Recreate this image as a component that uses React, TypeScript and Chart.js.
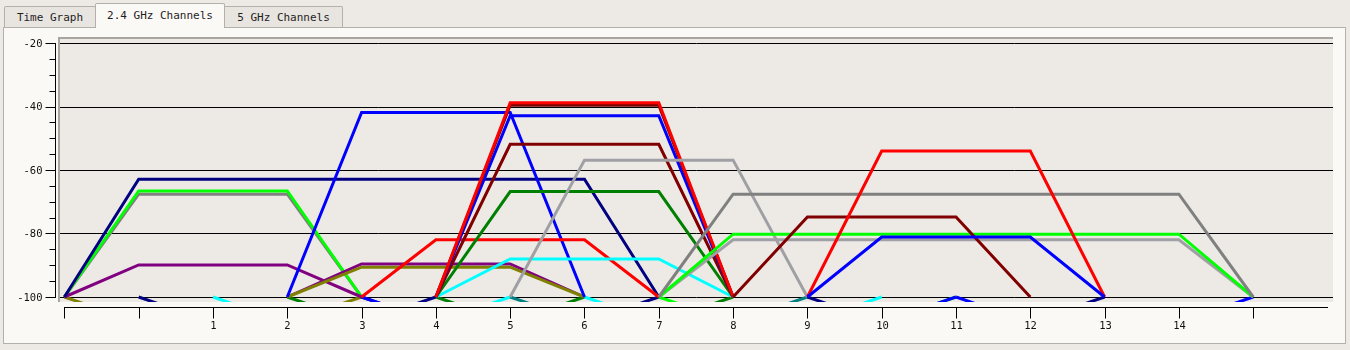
import React, { useEffect, useRef } from "react";
import { Chart, registerables } from "chart.js";

Chart.register(...registerables);

// ---- axis data ----
const channelTicks = [-1, 0, 1, 2, 3, 4, 5, 6, 7, 8, 9, 10, 11, 12, 13, 14, 15];
const channelLabels = ["", "", "1", "2", "3", "4", "5", "6", "7", "8", "9", "10", "11", "12", "13", "14", ""];
const signalTicks = [-20, -40, -60, -80, -100];
const signalLabels = ["-20", "-40", "-60", "-80", "-100"];
const floorSignal = -100;

// ---- networks (listed back to front): first / last channel of the trace and signal (dBm) ----
const netStart = [
  -1, 0, 1, 2, 3, 4, 5, 6, 7, 9, 3, 11,
  -1, -1, -1, -1, 2, 2, 2, 3, 4, 4, 4, 4, 4, 4, 5, 7, 7, 7, 8, 9, 9,
];
const netEnd = [
  3, 4, 5, 6, 7, 8, 9, 10, 11, 13, 11, 15,
  3, 3, 3, 7, 6, 6, 6, 7, 8, 8, 8, 8, 8, 8, 9, 15, 15, 15, 12, 13, 13,
];
const netSignal = [
  -108, -108, -108, -108, -108, -108, -108, -108, -108, -108, -108, -108,
  -67.6, -66.6, -89.9, -62.9, -89.6, -90.6, -41.9, -82, -88, -66.8, -51.9, -42.9, -39.6, -38.8,
  -56.9, -82, -80.2, -67.6, -74.8, -54, -81.1,
];
const netColor = [
  "#808000", "#000080", "#00FFFF", "#008000", "#000080", "#008000", "#008080", "#00FFFF", "#00FF00", "#000080", "#0000FF", "#0000FF",
  "#808080", "#00FF00", "#800080", "#000080", "#800080", "#808000", "#0000FF", "#FF0000", "#00FFFF", "#008000", "#800000", "#0000FF", "#800000", "#FF0000",
  "#A0A0A4", "#A0A0A4", "#00FF00", "#808080", "#800000", "#FF0000", "#0000FF",
];

const MONO = "'DejaVu Sans Mono', 'Liberation Mono', monospace";

export default function App() {
  const ref = useRef<HTMLCanvasElement>(null);

  useEffect(() => {
    if (!ref.current) return;
    const datasets = netSignal.map((s, i) => ({
      data: [
        { x: netStart[i], y: floorSignal },
        { x: netStart[i] + 1, y: s },
        { x: netEnd[i] - 1, y: s },
        { x: netEnd[i], y: floorSignal },
      ],
      borderColor: netColor[i],
      backgroundColor: netColor[i],
      borderWidth: 3,
      pointRadius: 0,
      tension: 0,
      fill: false,
      clip: 0,
      borderJoinStyle: "miter" as const,
    }));
    // Chart.js paints the first dataset last (on top), so reverse to keep back-to-front order
    datasets.reverse();

    const plotDecor = {
      id: "plotDecor",
      beforeDraw(chart: any) {
        const { ctx, chartArea: a } = chart;
        const y = chart.scales.y;
        ctx.save();
        ctx.fillStyle = "#EDEAE6";
        ctx.fillRect(a.left, a.top, a.right - a.left, a.bottom - a.top);
        ctx.fillStyle = "#A8A5A1";
        ctx.fillRect(a.left - 2, a.top - 2, a.right - a.left + 2, 2);
        ctx.fillRect(a.left - 2, a.top - 2, 2, a.bottom - a.top + 2);
        ctx.strokeStyle = "#000";
        ctx.lineWidth = 1;
        signalTicks.forEach((v) => {
          const py = Math.round(y.getPixelForValue(v)) + 0.5;
          ctx.beginPath();
          ctx.moveTo(a.left, py);
          ctx.lineTo(a.right, py);
          ctx.stroke();
        });
        ctx.restore();
      },
      afterDraw(chart: any) {
        const { ctx, chartArea: a } = chart;
        const x = chart.scales.x;
        const y = chart.scales.y;
        ctx.save();
        ctx.strokeStyle = "#000";
        ctx.fillStyle = "#111";
        ctx.lineWidth = 1;
        // y axis
        const ax = a.left - 5 + 0.5;
        const yTop = y.getPixelForValue(signalTicks[0]);
        const yBot = y.getPixelForValue(signalTicks[signalTicks.length - 1]);
        ctx.beginPath();
        ctx.moveTo(ax, Math.round(yTop));
        ctx.lineTo(ax, Math.round(yBot) + 1);
        ctx.stroke();
        for (let v = -100; v <= -20; v += 5) {
          const py = Math.round(y.getPixelForValue(v)) + 0.5;
          const major = v % 20 === 0;
          ctx.beginPath();
          ctx.moveTo(ax - (major ? 10 : 6), py);
          ctx.lineTo(ax, py);
          ctx.stroke();
        }
        ctx.font = `10.5px ${MONO}`;
        ctx.textAlign = "right";
        ctx.textBaseline = "middle";
        signalTicks.forEach((v, i) => {
          ctx.fillText(signalLabels[i], ax - 13, y.getPixelForValue(v) + 1);
        });
        // x axis
        const ay = a.bottom + 5 + 0.5;
        ctx.beginPath();
        ctx.moveTo(Math.round(x.getPixelForValue(channelTicks[0])), ay);
        ctx.lineTo(Math.round(x.getPixelForValue(16)), ay);
        ctx.stroke();
        ctx.textAlign = "center";
        channelTicks.forEach((c, i) => {
          const px = Math.round(x.getPixelForValue(c)) + 0.5;
          ctx.beginPath();
          ctx.moveTo(px, ay);
          ctx.lineTo(px, ay + 11);
          ctx.stroke();
          if (channelLabels[i]) ctx.fillText(channelLabels[i], px, ay + 19);
        });
        ctx.restore();
      },
    };

    const chart = new Chart(ref.current, {
      type: "line",
      data: { datasets },
      options: {
        animation: false,
        responsive: false,
        devicePixelRatio: 1,
        layout: { padding: { left: 60, top: 39, right: 17, bottom: 48 } },
        plugins: { legend: { display: false }, tooltip: { enabled: false } },
        scales: {
          x: { type: "linear", min: -1.059, max: 16.074, display: false },
          y: { type: "linear", min: -101.575, max: -18.74, display: false },
        },
      } as any,
      plugins: [plotDecor],
    });
    return () => chart.destroy();
  }, []);

  const tabBase: React.CSSProperties = {
    position: "absolute",
    boxSizing: "border-box",
    border: "1px solid #B4B0AA",
    borderBottom: "none",
    borderRadius: "2px 2px 0 0",
    fontFamily: MONO,
    fontSize: "11px",
    color: "#1E1E1E",
    textAlign: "center",
  };

  return (
    <div
      style={{
        position: "fixed",
        left: 0,
        top: 0,
        width: 1350,
        height: 350,
        background: "#EDEAE6",
        overflow: "hidden",
      }}
    >
      <div
        style={{
          position: "absolute",
          left: 3,
          top: 27,
          width: 1343,
          height: 317,
          boxSizing: "border-box",
          background: "#FBF9F6",
          border: "1px solid #B4B0AA",
        }}
      />
      <div style={{ ...tabBase, left: 4, top: 6, width: 92, height: 21, lineHeight: "21px", background: "#E8E5E1" }}>
        Time Graph
      </div>
      <div style={{ ...tabBase, left: 224, top: 6, width: 119, height: 21, lineHeight: "21px", background: "#E8E5E1" }}>
        5 GHz Channels
      </div>
      <div
        style={{
          ...tabBase,
          left: 95,
          top: 3,
          width: 130,
          height: 25,
          lineHeight: "24px",
          background: "#FBF9F6",
        }}
      >
        2.4 GHz Channels
      </div>
      <canvas
        ref={ref}
        width={1350}
        height={350}
        style={{ position: "absolute", left: 0, top: 0, width: 1350, height: 350 }}
      />
    </div>
  );
}
